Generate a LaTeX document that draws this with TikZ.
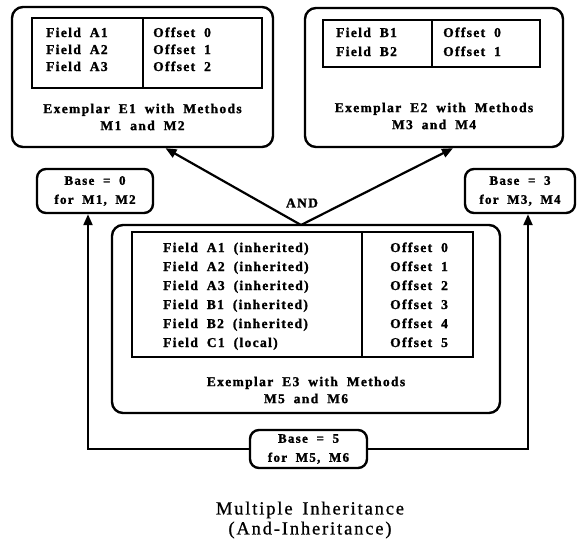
\documentclass[tikz,border=0pt]{standalone}
\usepackage{fontspec}
\setmainfont{Liberation Serif}
\newfontfamily\boxfont{Liberation Serif}[LetterSpace=10,WordSpace=1.9,FakeBold=1.5]
\newfontfamily\capfont{Liberation Serif}[LetterSpace=10,WordSpace=1.5,FakeBold=0.8]
\usetikzlibrary{arrows.meta}

\begin{document}
\begin{tikzpicture}[x=1pt,y=-1pt,
  exbox/.style={draw,line width=2.4pt,rounded corners=11pt,inner sep=0pt},
  basebox/.style={draw,line width=2.4pt,rounded corners=9pt,align=center,
     font=\boxfont\bfseries\fontsize{13}{19}\selectfont,inner sep=0pt},
  row/.style={anchor=base west,inner sep=0pt,font=\boxfont\bfseries\fontsize{13.5}{14}\selectfont},
  extext/.style={align=center,inner sep=0pt,font=\boxfont\bfseries\fontsize{13.5}{17}\selectfont},
  tab/.style={line width=1.8pt},
  link/.style={line width=2.2pt,-{Triangle[length=11pt,width=9pt]}}]
\useasboundingbox (0,0) rectangle (578,544);

% exemplar boxes
\node[exbox,minimum width=261pt,minimum height=140pt] (e1) at (142.5,77) {};
\node[exbox,minimum width=258pt,minimum height=139pt] (e2) at (434,77.5) {};
\node[exbox,minimum width=388pt,minimum height=188pt] (e3) at (306,319) {};

% field tables
\draw[tab] (32,18) rectangle (262,88) (143,18) -- (143,88);
\draw[tab] (323,20) rectangle (540,67) (432,20) -- (432,67);
\draw[tab] (132,232) rectangle (473,357) (362,232) -- (362,357);

\foreach \i/\f in {0/A1,1/A2,2/A3} {
   \node[row] (fa\i) at (46,37+17*\i) {Field \f};
   \node[row] (oa\i) at (153,37+17*\i) {Offset \i};
}
\foreach \i/\f in {0/B1,1/B2} {
   \node[row] (fb\i) at (336,37+19*\i) {Field \f};
   \node[row] (ob\i) at (443,37+19*\i) {Offset \i};
}
\foreach \i/\f in {0/A1 (inherited),1/A2 (inherited),2/A3 (inherited),%
   3/B1 (inherited),4/B2 (inherited),5/C1 (local)} {
   \node[row] (fc\i) at (163,252+19*\i) {Field \f};
   \node[row] (oc\i) at (390,252+19*\i) {Offset \i};
}

\node[extext] (t1) at (142.5,117) {Exemplar E1 with Methods\\M1 and M2};
\node[extext] (t2) at (434,116) {Exemplar E2 with Methods\\M3 and M4};
\node[extext] (t3) at (306,390) {Exemplar E3 with Methods\\M5 and M6};

% base offsets
\node[basebox,minimum width=116pt,minimum height=44pt] (base0) at (95,191) {Base = 0\\for M1, M2};
\node[basebox,minimum width=110pt,minimum height=44pt] (base3) at (520,191) {Base = 3\\for M3, M4};
\node[basebox,minimum width=117pt,minimum height=38pt] (base5) at (308.5,449) {Base = 5\\for M5, M6};

% and-inheritance
\coordinate (andpt) at (301,225);
\node[extext] (and) at (302,203) {AND};
\draw[link] (andpt) -- ([xshift=23pt]e1.south);
\draw[link] (andpt) -- ([xshift=19pt]e2.south);

\draw[link] (base5.west) -| ([xshift=-7pt]base0.south);
\draw[link] (base5.east) -| ([xshift=8pt]base3.south);

\node[align=center,font=\capfont\fontsize{18.5}{20}\selectfont] (cap) at (310,520)
   {Multiple Inheritance\\(And-Inheritance)};
\end{tikzpicture}
\end{document}
